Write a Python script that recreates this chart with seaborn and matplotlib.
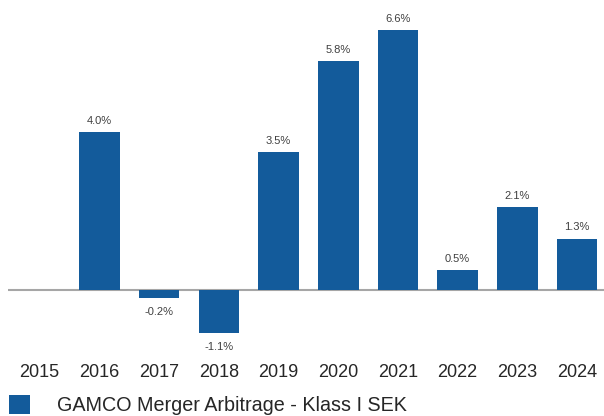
import numpy as np
import pandas as pd
import seaborn as sns
import matplotlib.pyplot as plt
from matplotlib.patches import Patch

# yearly returns, 2015 has no value
years = ["2015", "2016", "2017", "2018", "2019", "2020", "2021", "2022", "2023", "2024"]
returns = [np.nan, 4.0, -0.2, -1.1, 3.5, 5.8, 6.6, 0.5, 2.1, 1.3]
series_name = "GAMCO Merger Arbitrage - Klass I SEK"

bar_color = "#135b9b"

sns.set_style("white")
plt.rcParams["font.family"] = ["Liberation Sans", "DejaVu Sans"]

df = pd.DataFrame({"year": years, "ret": returns})

fig = plt.figure(figsize=(6.04, 4.16), dpi=100)
ax = fig.add_axes([8 / 604, 71 / 416, 596 / 604, 345 / 416])

sns.barplot(data=df, x="year", y="ret", order=years, color=bar_color,
            saturation=1, width=0.68, linewidth=0, edgecolor="none", ax=ax)

ax.axhline(0, color="#a6a6a6", lw=1.5, zorder=0)
ax.set_xlim(-0.53, 9.45)
ax.set_ylim(-1.40, 7.36)

# value labels
for i, v in enumerate(returns):
    if np.isnan(v):
        continue
    if v >= 0:
        ax.annotate(f"{v:.1f}%", (i, v), xytext=(0, 4.5), textcoords="offset points",
                    ha="center", va="bottom", fontsize=8, color="#404040")
    else:
        ax.annotate(f"{v:.1f}%", (i, v), xytext=(0, -6.5), textcoords="offset points",
                    ha="center", va="top", fontsize=8, color="#404040")

ax.set_xlabel("")
ax.set_ylabel("")
ax.set_yticks([])
ax.tick_params(axis="x", length=0, pad=14, labelsize=13, labelcolor="#262626")
sns.despine(ax=ax, left=True, bottom=True)

handle = Patch(facecolor=bar_color, edgecolor="none")
fig.legend([handle], [series_name], loc="upper left", bbox_to_anchor=(0.008, 0.06),
           frameon=False, fontsize=14.2, handlelength=1.07, handleheight=1.07,
           handletextpad=1.35, borderaxespad=0, borderpad=0.2,
           labelcolor="#262626")

fig.savefig("out.png", dpi=100)
